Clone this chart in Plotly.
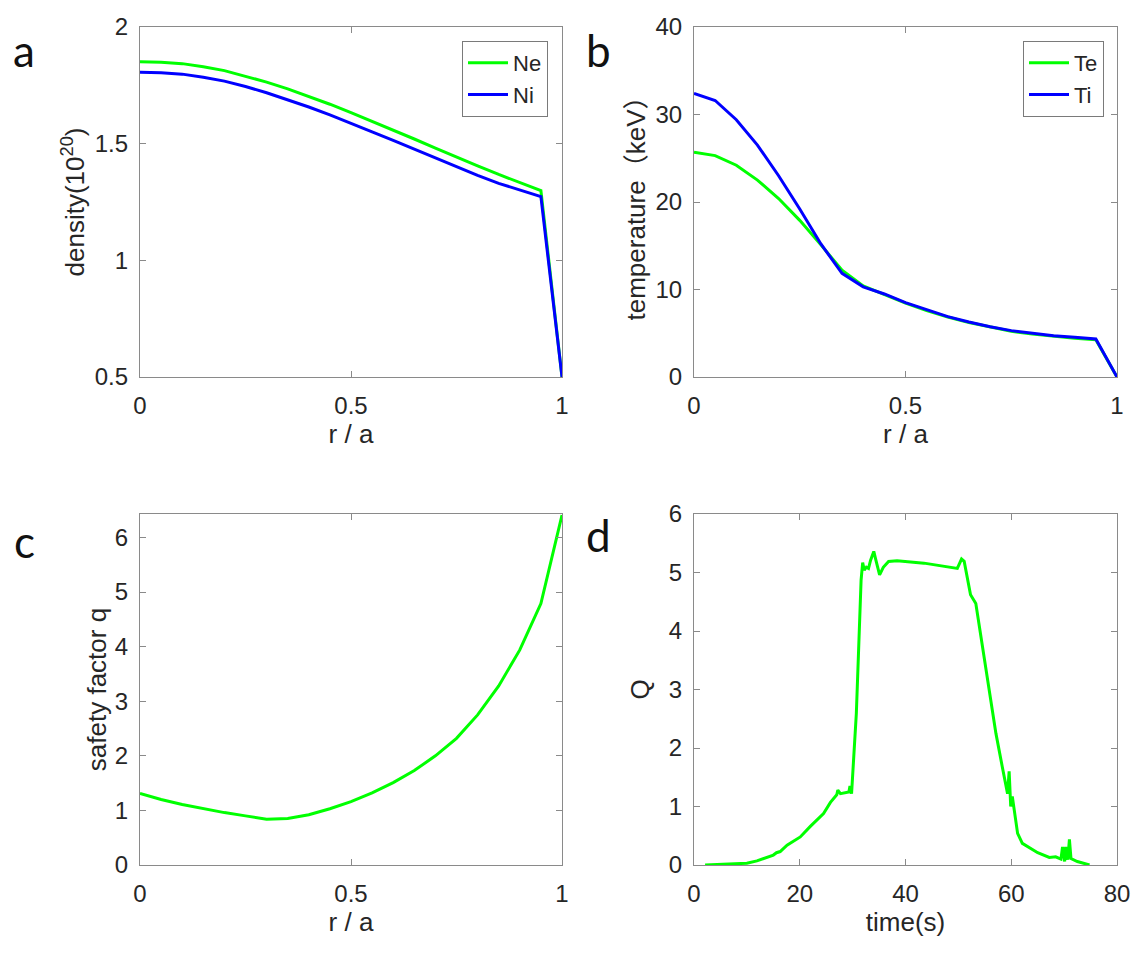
import plotly.graph_objects as go

# ---------------- data ----------------
r = [0.0, 0.05, 0.1, 0.15, 0.2, 0.25, 0.3, 0.35, 0.4, 0.45, 0.5,
     0.55, 0.6, 0.65, 0.7, 0.75, 0.8, 0.85, 0.9, 0.95, 1.0]
ne = [1.851, 1.849, 1.843, 1.830, 1.813, 1.790, 1.764, 1.735, 1.703, 1.669, 1.633,
      1.596, 1.559, 1.520, 1.481, 1.442, 1.405, 1.368, 1.335, 1.299, 0.5]
ni = [1.806, 1.804, 1.798, 1.785, 1.768, 1.745, 1.718, 1.689, 1.657, 1.623, 1.588,
      1.551, 1.514, 1.476, 1.438, 1.400, 1.364, 1.330, 1.301, 1.273, 0.5]
te = [25.7, 25.3, 24.2, 22.5, 20.4, 17.9, 15.1, 12.2, 10.4, 9.45, 8.45,
      7.6, 6.85, 6.22, 5.68, 5.22, 4.9, 4.62, 4.42, 4.25, 0.0]
ti = [32.4, 31.6, 29.4, 26.5, 23.0, 19.2, 15.2, 11.85, 10.3, 9.49, 8.5,
      7.66, 6.9, 6.29, 5.75, 5.3, 4.99, 4.72, 4.53, 4.34, 0.0]
q = [1.31, 1.20, 1.11, 1.03, 0.96, 0.90, 0.84, 0.85, 0.92, 1.03, 1.16,
     1.32, 1.51, 1.73, 2.00, 2.32, 2.75, 3.28, 3.94, 4.79, 6.41]

time_s = [2.1, 10.0, 11.9, 15.0, 15.6, 16.3, 17.6, 20.1, 22.0, 23.3, 24.5, 25.8, 27.0,
          27.2, 27.7, 29.3, 29.5, 29.8, 30.2, 30.7, 31.2, 31.6, 31.9, 32.2, 32.6,
          33.0, 33.4, 34.0, 34.4, 35.1, 35.8, 36.8, 38.4, 43.5, 49.8, 50.6, 51.1,
          52.3, 53.3, 53.9, 54.9, 56.1, 57.1, 58.3, 59.3, 59.6, 59.9, 60.2, 60.7,
          61.2, 62.1, 65.0, 67.2, 68.4, 69.4, 69.7, 70.1, 70.3, 70.7, 71.0, 71.3,
          72.5, 74.8]
Q = [0.0, 0.03, 0.07, 0.17, 0.21, 0.23, 0.34, 0.48, 0.66, 0.78, 0.88, 1.07, 1.20,
     1.28, 1.22, 1.25, 1.35, 1.22, 1.85, 2.59, 3.85, 4.87, 5.17, 5.04, 5.09,
     5.07, 5.21, 5.36, 5.21, 4.96, 5.09, 5.19, 5.20, 5.16, 5.07, 5.23, 5.19,
     4.62, 4.47, 4.13, 3.56, 2.88, 2.25, 1.68, 1.22, 1.60, 1.00, 1.17, 0.88,
     0.54, 0.37, 0.21, 0.13, 0.14, 0.10, 0.31, 0.06, 0.31, 0.09, 0.44, 0.11,
     0.06, 0.0]

GREEN = "#00FF00"
BLUE = "#0000FF"
W, H = 1148, 956
FONT = "Liberation Sans, Arial, Noto Sans CJK SC, sans-serif"
AX = "#8a8a8a"
TXT = "#262626"
TICK_SIZE = 24
TITLE_SIZE = 26

fig = go.Figure()
fig.add_trace(go.Scatter(x=r, y=ne, mode="lines", name="Ne", line=dict(color=GREEN, width=3),
                         xaxis="x", yaxis="y", legend="legend"))
fig.add_trace(go.Scatter(x=r, y=ni, mode="lines", name="Ni", line=dict(color=BLUE, width=3),
                         xaxis="x", yaxis="y", legend="legend"))
fig.add_trace(go.Scatter(x=r, y=te, mode="lines", name="Te", line=dict(color=GREEN, width=3),
                         xaxis="x2", yaxis="y2", legend="legend2"))
fig.add_trace(go.Scatter(x=r, y=ti, mode="lines", name="Ti", line=dict(color=BLUE, width=3),
                         xaxis="x2", yaxis="y2", legend="legend2"))
fig.add_trace(go.Scatter(x=r, y=q, mode="lines", showlegend=False, line=dict(color=GREEN, width=3),
                         xaxis="x3", yaxis="y3"))
fig.add_trace(go.Scatter(x=time_s, y=Q, mode="lines", showlegend=False, line=dict(color=GREEN, width=3),
                         xaxis="x4", yaxis="y4"))


def px_x(p):
    return p / W


def px_y(p):
    return 1 - p / H


col1 = [px_x(140), px_x(562)]
col2 = [px_x(694), px_x(1117)]
row1 = [px_y(377), px_y(27)]
row2 = [px_y(865), px_y(514)]

base = dict(showline=True, linecolor=AX, linewidth=1.2, mirror="ticks", ticks="inside",
            ticklen=6, tickcolor=AX, tickwidth=1, showgrid=False, zeroline=False,
            automargin=False,
            tickfont=dict(family=FONT, size=TICK_SIZE, color=TXT))
title_font = dict(family=FONT, size=TITLE_SIZE, color=TXT)


def xax(dom, anchor, rng, tv, title, standoff=6):
    d = dict(base)
    d.update(domain=dom, anchor=anchor, range=rng, tickvals=tv,
             title=dict(text=title, standoff=standoff, font=title_font),
             ticklabelstandoff=7)
    return d


def yax(dom, anchor, rng, tv, title, standoff=2):
    d = dict(base)
    d.update(domain=dom, anchor=anchor, range=rng, tickvals=tv,
             title=dict(text=title, standoff=standoff, font=title_font),
             ticklabelstandoff=6)
    return d


leg_common = dict(xanchor="right", yanchor="top", bgcolor="white", bordercolor="#7a7a7a",
                  borderwidth=1, font=dict(family=FONT, size=22, color=TXT),
                  itemwidth=40, tracegroupgap=0)

fig.update_layout(
    width=W, height=H,
    margin=dict(l=0, r=0, t=0, b=0, autoexpand=False),
    paper_bgcolor="white", plot_bgcolor="white",
    xaxis=xax(col1, "y", [0, 1], [0, 0.5, 1], "r / a"),
    yaxis=yax(row1, "x", [0.5, 2], [0.5, 1, 1.5, 2], "density(10<sup>20</sup>)"),
    xaxis2=xax(col2, "y2", [0, 1], [0, 0.5, 1], "r / a"),
    yaxis2=yax(row1, "x2", [0, 40], [0, 10, 20, 30, 40], "temperature（keV）"),
    xaxis3=xax(col1, "y3", [0, 1], [0, 0.5, 1], "r / a", standoff=4),
    yaxis3=yax(row2, "x3", [0, 6.43], [0, 1, 2, 3, 4, 5, 6], "safety factor q", standoff=0),
    xaxis4=xax(col2, "y4", [0, 80], [0, 20, 40, 60, 80], "time(s)", standoff=4),
    yaxis4=yax(row2, "x4", [0, 6], [0, 1, 2, 3, 4, 5, 6], "Q", standoff=11),
    legend=dict(x=px_x(548), y=px_y(41), **leg_common),
    legend2=dict(x=px_x(1104), y=px_y(41), **leg_common),
    showlegend=True,
)

letters = [("a", 24, 50), ("b", 598, 50), ("c", 24, 541), ("d", 598, 535)]
for s, lx, ly in letters:
    fig.add_annotation(text=s, x=px_x(lx), y=px_y(ly), xref="paper", yref="paper",
                       showarrow=False, xanchor="center", yanchor="middle",
                       font=dict(family="Lato, Open Sans, sans-serif", size=44, color="#111"))

fig.write_html("out.html")
